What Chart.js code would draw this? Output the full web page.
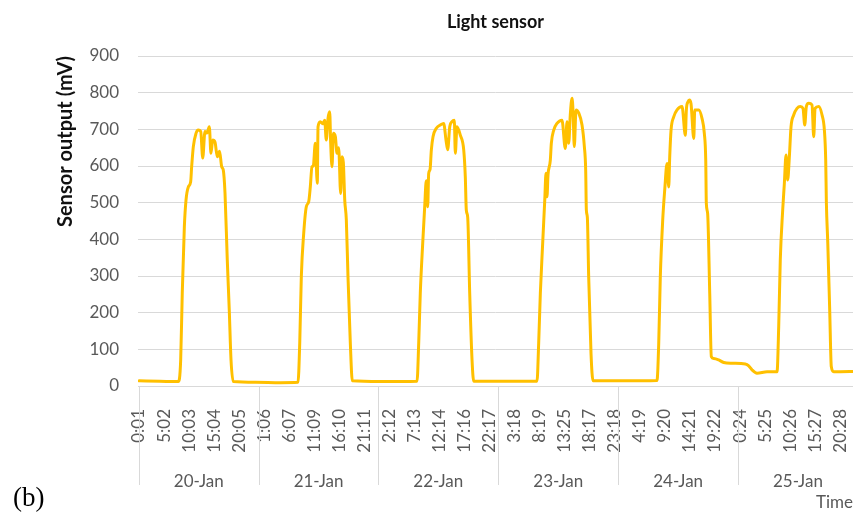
<!DOCTYPE html>
<html>
<head>
<meta charset="utf-8">
<title>Light sensor</title>
<script src="https://cdn.jsdelivr.net/npm/chart.js@4/dist/chart.umd.min.js"></script>
<style>
  html, body { margin: 0; padding: 0; background: #fff; overflow: hidden; }
  #wrap { position: relative; width: 853px; height: 514px; }
  #chart { position: absolute; left: 0; top: 0; }
  #panel { position: absolute; left: 13px; top: 484px; font: 27px/1 "Liberation Serif", "Times New Roman", serif; color: #000; }
</style>
</head>
<body>
<div id="wrap">
  <canvas id="chart" width="853" height="514"></canvas>
  <div id="panel">(b)</div>
</div>
<script>
// Time labels shown every 301 samples along the bottom axis
const timeLabels = ['0:01','5:02','10:03','15:04','20:05',
                    '1:06','6:07','11:09','16:10','21:11',
                    '2:12','7:13','12:14','17:16','22:17',
                    '3:18','8:19','13:25','18:17','23:18',
                    '4:19','9:20','14:21','19:22',
                    '0:24','5:25','10:26','15:27','20:28'];
const labelStep = 301;

// Day groups and the sample index at which each day starts / ends
const dayLabels = ['20-Jan','21-Jan','22-Jan','23-Jan','24-Jan','25-Jan'];
const dayBreaks = [-1, 1439, 2878, 4317, 5761, 7200, 8640];

// Light sensor readings: sample index and output in mV
const sampleIdx = [
  0, 250, 472, 501, 520, 545, 565, 593, 621, 633, 653, 685, 713, 742, 766, 793, 817, 845, 865, 886, 914, 941, 968, 994, 1013, 1034, 1061, 1085, 1106, 1133,
  1400, 1700, 1911,
  1932, 1951, 1980, 2011, 2040, 2059, 2079, 2095, 2119, 2143, 2152, 2179, 2208, 2232, 2251, 2272, 2292, 2304, 2320, 2336, 2360, 2380, 2400, 2424, 2440, 2456, 2473, 2492, 2512, 2540, 2564,
  2900, 3342,
  3362, 3381, 3410, 3434, 3453, 3470, 3482, 3498, 3514, 3534, 3574, 3622, 3662, 3690, 3710, 3735, 3762, 3790, 3802, 3822, 3862, 3903, 3922, 3934, 3951, 3975, 4003, 4023,
  4400, 4784,
  4804, 4824, 4852, 4877, 4892, 4904, 4916, 4944, 4956, 4985, 5024, 5084, 5124, 5145, 5165, 5184, 5205, 5217, 5232, 5253, 5285, 5325, 5353, 5369, 5377, 5389, 5405, 5433, 5457,
  5800, 6226,
  6247, 6266, 6295, 6319, 6347, 6367, 6379, 6395, 6427, 6467, 6527, 6567, 6579, 6599, 6615, 6635, 6668, 6680, 6728, 6767, 6795, 6812, 6819, 6835, 6860, 6879, 6908, 6968, 7028, 7128, 7288, 7329, 7368, 7428, 7549,
  7669, 7689, 7708, 7737, 7757, 7777, 7797, 7817, 7837, 7869, 7909, 7949, 7981, 8002, 8021, 8050, 8089, 8110, 8126, 8170, 8210, 8238, 8254, 8262, 8279, 8302, 8321, 8350, 8640
];
const sensorMv = [
  14, 13, 12, 71, 253, 434, 507, 543, 557, 598, 653, 689, 698, 694, 622, 694, 690, 707, 635, 671, 665, 625, 640, 598, 589, 525, 344, 207, 71, 12,
  10, 9, 10,
  117, 298, 417, 489, 503, 543, 598, 600, 662, 553, 707, 721, 715, 725, 671, 730, 748, 662, 598, 689, 680, 635, 650, 525, 625, 610, 507, 453, 298, 117, 14,
  12, 13,
  117, 253, 389, 489, 560, 489, 580, 590, 644, 680, 703, 712, 716, 671, 644, 707, 721, 725, 635, 707, 684, 644, 571, 480, 460, 253, 71, 13,
  13, 13,
  117, 253, 389, 507, 580, 516, 575, 616, 662, 698, 716, 725, 648, 721, 662, 740, 785, 750, 653, 753, 745, 712, 653, 589, 480, 460, 298, 89, 14,
  14, 15,
  117, 298, 453, 535, 607, 543, 625, 698, 734, 753, 762, 684, 753, 775, 780, 770, 675, 753, 753, 730, 689, 616, 498, 470, 253, 80, 75, 71, 64, 62, 60, 55, 44, 35, 39,
  39, 162, 344, 480, 553, 630, 562, 625, 707, 739, 757, 762, 757, 712, 762, 771, 767, 680, 757, 762, 739, 698, 616, 500, 389, 207, 53, 39, 40
];

const tickPositions = timeLabels.map((_, i) => i * labelStep);
const dayCenters = dayLabels.map((_, i) => (dayBreaks[i] + dayBreaks[i + 1]) / 2);

const X_MIN = -12, X_MAX = 8582;
const GRID = '#d9d9d9';
const TEXT = '#595959';
const FONT = 'Lato, "Open Sans", sans-serif';

Chart.defaults.font.family = FONT;

// Vertical dividers between the day groups under the time axis
const dayDividers = {
  id: 'dayDividers',
  afterDraw(chart) {
    const x = chart.scales.x;
    const ctx = chart.ctx;
    const top = chart.chartArea.bottom;
    const bottom = chart.scales.x2.top + 24;
    ctx.save();
    ctx.strokeStyle = GRID;
    ctx.lineWidth = 1;
    dayBreaks.forEach(v => {
      const px = Math.round(x.getPixelForValue(v)) + 0.5;
      ctx.beginPath();
      ctx.moveTo(px, top);
      ctx.lineTo(px, bottom);
      ctx.stroke();
    });
    ctx.restore();
  }
};

// The plot runs right to the canvas edges, so the bottom axes reserve no side padding
function noSidePadding(scale) {
  scale.paddingLeft = 0;
  scale.paddingRight = 0;
}

new Chart(document.getElementById('chart'), {
  type: 'line',
  data: {
    datasets: [{
      label: 'Light sensor',
      data: sampleIdx.map((s, i) => ({ x: s, y: sensorMv[i] })),
      borderColor: '#FFC000',
      borderWidth: 3,
      pointRadius: 0,
      cubicInterpolationMode: 'monotone',
      borderJoinStyle: 'round',
      borderCapStyle: 'round',
      fill: false,
      xAxisID: 'x',
      yAxisID: 'y'
    }]
  },
  options: {
    responsive: false,
    animation: false,
    devicePixelRatio: 1,
    layout: { padding: 0 },
    plugins: {
      legend: { display: false },
      tooltip: { enabled: false },
      title: {
        display: true,
        text: 'Light sensor',
        fullSize: false,
        color: '#111',
        font: { family: FONT, size: 18, weight: 'bold' },
        padding: { top: 11, bottom: 23.4 }
      }
    },
    scales: {
      x: {
        type: 'linear',
        position: 'bottom',
        weight: 0,
        min: X_MIN,
        max: X_MAX,
        afterBuildTicks(scale) { scale.ticks = tickPositions.map(v => ({ value: v })); },
        afterFit(scale) { scale.height = 75; noSidePadding(scale); },
        grid: { display: false },
        border: { display: true, color: GRID, width: 1 },
        ticks: {
          autoSkip: false,
          minRotation: 90,
          maxRotation: 90,
          padding: 15,
          color: TEXT,
          font: { size: 17 },
          callback: (v, i) => timeLabels[i]
        }
      },
      x2: {
        type: 'linear',
        position: 'bottom',
        weight: 1,
        min: X_MIN,
        max: X_MAX,
        afterBuildTicks(scale) { scale.ticks = dayCenters.map(v => ({ value: v })); },
        afterFit(scale) { scale.height = 53; noSidePadding(scale); },
        grid: { display: false },
        border: { display: false },
        ticks: {
          autoSkip: false,
          minRotation: 0,
          maxRotation: 0,
          padding: 2,
          color: TEXT,
          font: { size: 17 },
          callback: (v, i) => dayLabels[i]
        },
        title: {
          display: true,
          text: 'Time',
          align: 'end',
          color: TEXT,
          font: { size: 17 },
          padding: { top: 0, bottom: 1 }
        }
      },
      y: {
        min: 0,
        max: 900,
        afterFit(scale) { scale.width = 138; },
        grid: { color: GRID, lineWidth: 1, drawTicks: false },
        border: { display: false },
        ticks: {
          stepSize: 100,
          padding: 19,
          color: TEXT,
          font: { size: 17 }
        },
        title: {
          display: true,
          text: 'Sensor output (mV)',
          align: 'end',
          color: '#111',
          font: { size: 20, weight: 'bold' },
          padding: { top: 54, bottom: 0 }
        }
      }
    }
  },
  plugins: [dayDividers]
});
</script>
</body>
</html>
